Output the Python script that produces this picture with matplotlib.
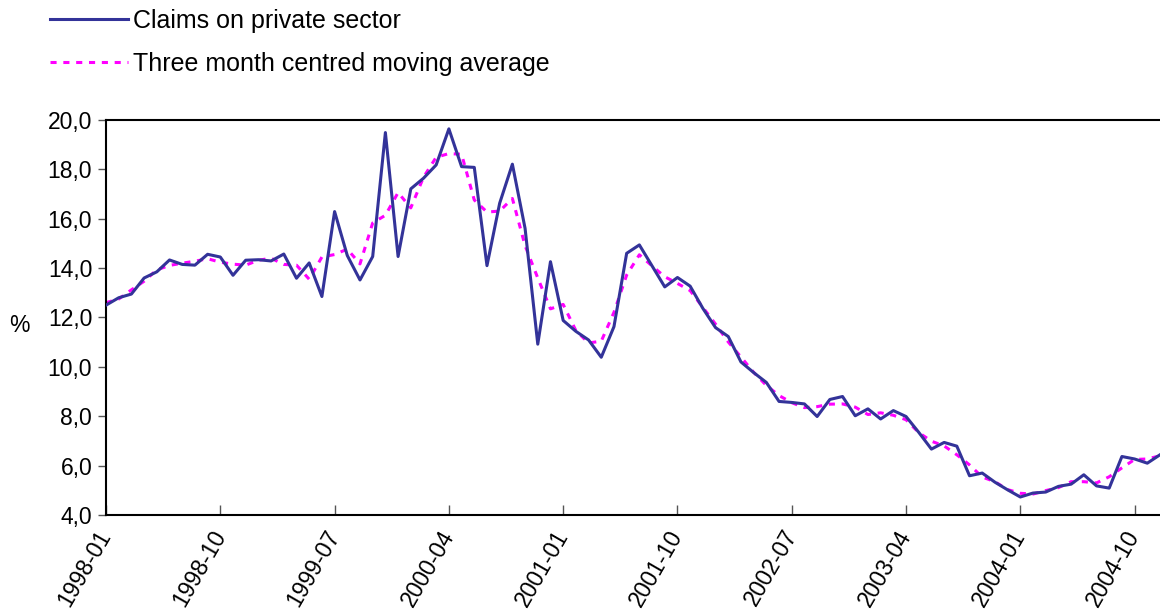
import numpy as np
import pandas as pd
import matplotlib
matplotlib.use("Agg")
import matplotlib.pyplot as plt
from matplotlib.ticker import FuncFormatter

plt.rcParams['font.family'] = ['Liberation Sans', 'DejaVu Sans']

months = pd.period_range('1998-01', '2004-12', freq='M').strftime('%Y-%m').tolist()

claims = [12.5, 12.8, 12.95, 13.6, 13.85, 14.33, 14.15, 14.12, 14.56, 14.45,
          13.71, 14.32, 14.34, 14.29, 14.57, 13.59, 14.21, 12.85, 16.29, 14.51,
          13.52, 14.47, 19.49, 14.47, 17.21, 17.64, 18.18, 19.64, 18.11, 18.08,
          14.10, 16.63, 18.21, 15.61, 10.92, 14.26, 11.88, 11.44, 11.09, 10.39,
          11.63, 14.60, 14.94, 14.09, 13.24, 13.62, 13.27, 12.37, 11.59, 11.23,
          10.20, 9.77, 9.37, 8.60, 8.56, 8.50, 7.99, 8.68, 8.80, 8.02,
          8.30, 7.89, 8.23, 7.99, 7.35, 6.67, 6.94, 6.79, 5.59, 5.70,
          5.33, 5.02, 4.73, 4.89, 4.93, 5.16, 5.25, 5.63, 5.18, 5.09,
          6.37, 6.27, 6.10, 6.44]

moving_avg = [12.6, 12.75, 13.12, 13.47, 13.93, 14.11, 14.2, 14.28, 14.38, 14.24,
              14.16, 14.12, 14.32, 14.4, 14.15, 14.12, 13.55, 14.45, 14.55, 14.77,
              14.17, 15.83, 16.14, 17.06, 16.44, 17.68, 18.49, 18.64, 18.61, 16.76,
              16.27, 16.31, 16.82, 14.91, 13.6, 12.35, 12.53, 11.47, 10.97, 11.04,
              12.21, 13.72, 14.54, 14.09, 13.65, 13.38, 13.09, 12.41, 11.73, 11.01,
              10.4, 9.78, 9.25, 8.84, 8.55, 8.35, 8.39, 8.49, 8.5, 8.37,
              8.07, 8.14, 8.04, 7.86, 7.34, 6.99, 6.8, 6.44, 6.03, 5.54,
              5.35, 5.03, 4.88, 4.85, 4.99, 5.11, 5.35, 5.35, 5.3, 5.55,
              5.91, 6.25, 6.27, 6.4]

x = np.arange(len(months))

fig = plt.figure(figsize=(11.6, 6.14), dpi=100)
ax = fig.add_axes([0.0914, 0.1612, 0.9086, 0.6434])

ax.plot(x, moving_avg, color='#ff00ff', lw=2.2, linestyle=(0, (2, 2.2)),
        label='Three month centred moving average', zorder=2)
ax.plot(x, claims, color='#333399', lw=2.2,
        label='Claims on private sector', zorder=3)

ax.set_xlim(0, len(months) - 1)
ax.set_ylim(4, 20)
ax.set_yticks(np.arange(4, 20.1, 2))
ax.yaxis.set_major_formatter(FuncFormatter(lambda v, p: f'{v:.1f}'.replace('.', ',')))
ax.set_xticks(x[::9])
ax.set_xticklabels(months[::9], rotation=60, ha='right', va='center',
                   rotation_mode='anchor')

ax.tick_params(axis='y', direction='out', length=6, width=1, color='#555555',
               labelsize=16.5, pad=4)
ax.tick_params(axis='x', direction='in', length=7, width=1, color='#555555',
               labelsize=16.5, pad=12)
for s in ['left', 'bottom', 'top']:
    ax.spines[s].set_linewidth(1.5)
ax.spines['right'].set_visible(False)

ax.set_ylabel('%', rotation=0, fontsize=16.5, va='center')
ax.yaxis.set_label_coords(-0.082, 0.48)

h, l = ax.get_legend_handles_labels()
fig.legend(h[::-1], l[::-1], loc='upper left', bbox_to_anchor=(0.024, 1.022),
           frameon=False, fontsize=18, handlelength=3.1, handletextpad=0.2,
           labelspacing=0.75)

fig.savefig('out.png', dpi=100)
